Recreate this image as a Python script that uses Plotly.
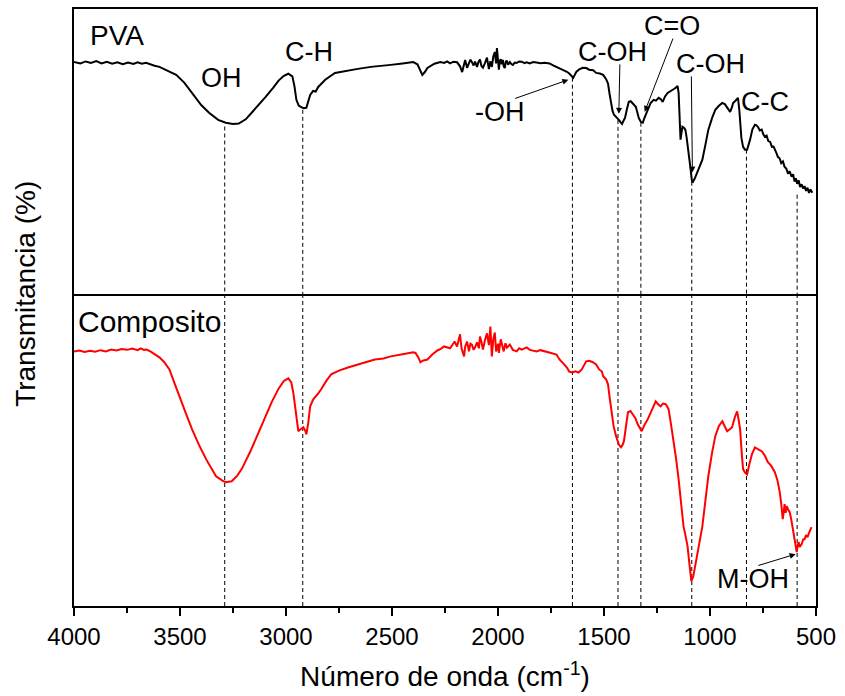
import plotly.graph_objects as go

# ---------------- data ----------------
pva_wn = [4000, 3970, 3945, 3920, 3895, 3870, 3845, 3820, 3795, 3770, 3745, 3720, 3700, 3680, 3660, 3640, 3620, 3597,
          3565, 3540, 3518, 3480, 3443, 3400, 3363, 3320, 3284, 3250, 3223, 3190, 3162, 3129, 3096, 3060, 3035, 3010,
          2989, 2970, 2960, 2951, 2940, 2932, 2918, 2904, 2895, 2886, 2872, 2860, 2848, 2815, 2769, 2720, 2661, 2600,
          2550, 2506, 2450, 2400, 2380, 2366, 2357, 2345, 2333, 2300, 2272, 2254, 2240, 2226, 2210, 2193, 2179, 2169,
          2160, 2155, 2146, 2137, 2130, 2123, 2115, 2108, 2099, 2092, 2085, 2078, 2071, 2062, 2052, 2043, 2036, 2029,
          2022, 2015, 2009, 2005, 2000, 1996, 1991, 1987, 1982, 1977, 1973, 1968, 1963, 1959, 1952, 1944, 1937, 1930,
          1921, 1912, 1900, 1888, 1875, 1865, 1850, 1835, 1818, 1800, 1780, 1757, 1740, 1724, 1705, 1687, 1675, 1664,
          1655, 1645, 1638, 1630, 1617, 1600, 1584, 1570, 1551, 1537, 1520, 1504, 1490, 1481, 1474, 1467, 1460, 1453,
          1440, 1430, 1422, 1415, 1408, 1401, 1392, 1383, 1374, 1364, 1350, 1343, 1336, 1326, 1317, 1310, 1303, 1292,
          1280, 1266, 1255, 1242, 1232, 1223, 1212, 1200, 1186, 1172, 1160, 1153, 1148, 1144, 1139, 1134, 1130, 1122,
          1116, 1110, 1102, 1093, 1086, 1083, 1072, 1060, 1048, 1036, 1022, 1008, 990, 975, 958, 942, 930, 919, 905,
          896, 891, 880, 868, 862, 858, 852, 844, 835, 825, 818, 811, 800, 788, 781, 774, 765, 756, 748, 741, 733, 725,
          716, 708, 700, 692, 686, 680, 672, 664, 656, 648, 640, 632, 625, 615, 608, 601, 595, 589, 582, 575, 568, 560,
          554, 547, 540, 533, 526, 517]
pva_t = [81.5, 81.0, 81.7, 81.2, 81.8, 81.0, 81.6, 80.9, 81.4, 80.7, 81.3, 80.8, 81.4, 80.9, 81.2, 80.6, 80.2, 79.8,
         78.7, 77.9, 77.0, 74.3, 70.7, 66.5, 63.8, 61.3, 60.3, 59.9, 60.0, 61.5, 63.8, 66.5, 69.3, 72.6, 75.0, 76.7,
         77.4, 76.5, 73.0, 68.3, 66.3, 65.9, 65.4, 65.5, 67.5, 70.0, 71.4, 71.2, 72.8, 75.3, 77.7, 78.4, 79.1, 79.8,
         80.1, 80.5, 81.0, 81.5, 80.7, 78.5, 77.0, 78.0, 79.4, 80.9, 81.5, 81.2, 81.7, 81.0, 81.6, 81.4, 80.0, 78.0,
         80.5, 82.2, 79.5, 80.9, 82.3, 81.5, 80.3, 81.6, 79.8, 81.5, 82.4, 80.1, 79.5, 81.0, 83.0, 79.0, 81.8, 79.8,
         83.5, 85.0, 81.0, 86.4, 79.5, 78.8, 82.0, 82.5, 80.7, 82.2, 80.0, 79.4, 81.6, 82.0, 80.6, 81.5, 80.8, 80.5,
         81.3, 81.2, 81.7, 81.6, 81.1, 81.4, 81.0, 81.5, 81.3, 81.1, 81.2, 81.0, 80.3, 79.8, 79.1, 78.6, 78.1, 77.5,
         76.8, 76.0, 77.0, 78.1, 78.9, 79.5, 79.4, 78.8, 78.6, 77.7, 77.5, 77.0, 75.5, 74.0, 70.5, 67.2, 64.5, 63.1,
         62.2, 61.3, 60.5, 59.9, 61.0, 62.0, 65.0, 67.6, 67.8, 66.9, 65.9, 64.0, 62.0, 60.6, 60.3, 61.8, 63.1, 65.5,
         67.2, 68.3, 68.0, 69.0, 68.5, 67.6, 69.5, 70.7, 71.5, 72.0, 72.6, 73.2, 70.7, 62.0, 54.4, 57.0, 58.9, 58.5,
         57.8, 55.0, 50.9, 45.0, 40.5, 39.4, 40.8, 42.9, 45.0, 47.4, 52.5, 57.8, 62.0, 64.8, 66.2, 67.2, 66.8, 65.5,
         64.1, 65.8, 67.2, 68.0, 69.0, 65.0, 59.6, 55.0, 51.9, 50.9, 50.9, 52.5, 54.4, 58.0, 59.6, 59.4, 58.9, 57.6,
         57.9, 56.2, 55.4, 55.8, 53.9, 53.6, 51.9, 52.0, 50.2, 49.6, 48.4, 47.9, 46.2, 46.8, 44.9, 44.3, 42.5, 43.4,
         41.5, 42.3, 39.8, 40.9, 39.0, 40.2, 37.9, 38.8, 37.3, 38.2, 36.5, 37.6, 35.8, 37.0, 35.9]

comp_wn = [4000, 3975, 3950, 3925, 3900, 3875, 3850, 3825, 3800, 3775, 3750, 3725, 3700, 3685, 3670, 3658, 3640, 3620,
           3597, 3575, 3550, 3530, 3504, 3475, 3443, 3410, 3377, 3350, 3330, 3300, 3284, 3256, 3230, 3209, 3170, 3129,
           3100, 3068, 3035, 3010, 2989, 2975, 2965, 2956, 2942, 2930, 2918, 2910, 2904, 2895, 2886, 2872, 2862, 2848,
           2834, 2810, 2787, 2750, 2708, 2661, 2620, 2581, 2540, 2506, 2450, 2400, 2389, 2375, 2366, 2355, 2333, 2310,
           2286, 2270, 2254, 2240, 2226, 2216, 2205, 2193, 2185, 2179, 2172, 2160, 2155, 2146, 2137, 2130, 2123, 2115,
           2108, 2099, 2090, 2085, 2078, 2071, 2062, 2052, 2043, 2036, 2029, 2022, 2015, 2009, 2000, 1996, 1987, 1980,
           1973, 1965, 1958, 1944, 1930, 1912, 1900, 1888, 1865, 1850, 1818, 1800, 1771, 1750, 1724, 1710, 1690, 1675,
           1664, 1650, 1635, 1620, 1605, 1598, 1584, 1570, 1555, 1537, 1523, 1510, 1504, 1490, 1481, 1474, 1467, 1455,
           1443, 1430, 1420, 1413, 1406, 1396, 1387, 1375, 1364, 1352, 1341, 1332, 1322, 1308, 1294, 1275, 1256, 1245,
           1233, 1222, 1209, 1200, 1195, 1185, 1172, 1160, 1148, 1135, 1125, 1115, 1106, 1097, 1088, 1079, 1069, 1055,
           1036, 1022, 1008, 990, 975, 958, 942, 930, 919, 905, 896, 882, 872, 865, 858, 850, 844, 835, 825, 815, 802,
           788, 775, 755, 741, 727, 712, 694, 682, 671, 664, 657, 652, 648, 643, 638, 631, 624, 617, 610, 600, 591, 586,
           582, 577, 568, 560, 554, 547, 540, 530, 521]
comp_t = [82.0, 82.3, 81.8, 82.2, 81.9, 82.4, 82.0, 82.6, 82.3, 82.8, 82.5, 82.9, 82.4, 83.0, 82.5, 82.6, 82.0, 81.0,
          80.1, 78.6, 76.2, 72.5, 67.5, 62.5, 56.9, 51.8, 47.3, 44.0, 41.8, 40.4, 39.9, 40.2, 42.0, 44.1, 49.5, 55.9,
          60.8, 65.6, 70.0, 72.5, 73.3, 72.0, 68.5, 63.3, 56.3, 57.0, 57.6, 56.6, 55.3, 59.0, 64.3, 66.5, 67.5, 68.5,
          69.8, 72.5, 74.6, 75.8, 76.8, 77.8, 78.6, 79.4, 79.7, 80.4, 81.1, 81.7, 81.5, 80.0, 78.5, 79.0, 79.4, 81.0,
          82.3, 82.8, 83.6, 83.2, 83.0, 84.0, 85.2, 83.6, 86.0, 87.5, 83.0, 80.4, 83.5, 85.2, 82.0, 84.5, 84.2, 82.5,
          83.3, 84.9, 83.0, 86.8, 85.0, 82.6, 85.5, 87.8, 84.0, 90.0, 80.4, 86.0, 88.1, 82.0, 84.5, 81.5, 85.9, 83.5,
          82.0, 84.6, 83.2, 84.2, 82.5, 82.0, 83.0, 82.6, 83.3, 82.5, 82.0, 82.4, 82.0, 81.5, 81.0, 79.4, 78.0, 76.8,
          75.5, 75.2, 75.6, 75.2, 76.2, 77.2, 78.8, 79.0, 78.6, 77.8, 76.2, 75.5, 74.0, 73.0, 71.4, 67.5, 63.3, 58.0,
          54.7, 52.0, 51.1, 51.8, 53.1, 58.0, 62.4, 62.8, 61.7, 60.5, 58.5, 57.2, 56.3, 58.5, 60.1, 63.0, 65.9, 65.0,
          64.3, 65.2, 65.0, 64.0, 63.3, 59.0, 53.7, 47.5, 40.8, 33.0, 25.7, 22.5, 19.3, 13.5, 8.0, 9.5, 12.9, 18.5,
          25.7, 33.5, 41.8, 49.5, 54.7, 58.0, 59.5, 57.8, 56.3, 57.0, 57.6, 61.0, 62.7, 60.0, 56.9, 49.0, 44.1, 43.0,
          42.4, 45.5, 48.9, 51.1, 50.5, 49.8, 48.4, 46.3, 45.2, 43.1, 40.5, 36.7, 33.0, 28.0, 30.5, 32.8, 30.0, 32.2,
          31.0, 30.2, 28.0, 24.8, 21.0, 17.4, 19.5, 20.6, 19.0, 19.9, 21.5, 21.5, 22.8, 22.2, 24.0, 25.4]

# band positions (cm-1) marked by dashed lines, and PVA transmittance where each line starts
band_wn = [3289, 2921, 1649, 1434, 1326, 1086, 828, 589]
band_top = [59.0, 64.8, 76.0, 61.3, 60.3, 39.7, 50.9, 35.2]

# labels: (text, wavenumber, transmittance, panel)
labels = [("OH", 3302, 76.0, 1), ("C-H", 2890, 85.0, 1), ("-OH", 1991, 64.1, 1), ("C-OH", 1462, 85.0, 1),
          ("C=O", 1177, 94.1, 1), ("C-OH", 999, 80.8, 1), ("C-C", 741, 67.6, 1), ("M-OH", 797, 8.7, 2)]
# arrows: (tail wn, tail T, head wn, head T, panel)
arrows = [(1926, 68.6, 1668, 75.3, 1), (1425, 81.2, 1430, 63.4, 1), (1172, 90.2, 1308, 64.1, 1),
          (1088, 77.0, 1083, 42.9, 1), (779, 12.9, 596, 16.7, 2)]

FONT = "Liberation Sans, Arial, sans-serif"

fig = go.Figure()
fig.add_trace(go.Scatter(x=pva_wn, y=pva_t, mode="lines", line=dict(color="black", width=2),
                         xaxis="x", yaxis="y", showlegend=False))
fig.add_trace(go.Scatter(x=comp_wn, y=comp_t, mode="lines", line=dict(color="#ff0000", width=2),
                         xaxis="x2", yaxis="y2", showlegend=False))

split = 311 / 598
line_style = dict(showline=True, linecolor="black", linewidth=2, showgrid=False, zeroline=False)
fig.update_layout(
    width=845, height=696,
    margin=dict(l=74, r=23, t=9, b=89),
    paper_bgcolor="white", plot_bgcolor="white",
    font=dict(family=FONT, color="black"),
    # top panel: only its top border (divider is drawn by the bottom panel's mirrored line)
    xaxis=dict(range=[4000, 500], anchor="y", side="top", mirror=False, matches="x2",
               showticklabels=False, ticks="", **line_style),
    yaxis=dict(range=[0, 100], domain=[split, 1], anchor="x", mirror=True,
               showticklabels=False, ticks="", **line_style),
    xaxis2=dict(range=[4000, 500], anchor="y2", mirror=True, ticks="outside", ticklen=8, tickwidth=1.5,
                tickcolor="black", dtick=500, tick0=500,
                tickfont=dict(size=24, family=FONT, color="black"),
                minor=dict(ticks="outside", ticklen=5, tickwidth=1.5, tickcolor="black", dtick=250, tick0=500),
                title=dict(text="Número de onda (cm<sup>-1</sup>)", font=dict(size=28, family=FONT, color="black"),
                           standoff=18),
                **line_style),
    yaxis2=dict(range=[0, 100], domain=[0, split], anchor="x2", mirror=True,
                showticklabels=False, ticks="", **line_style),
)

# dashed band lines
for wn, top in zip(band_wn, band_top):
    fig.add_shape(type="line", xref="x", yref="y", x0=wn, x1=wn, y0=top, y1=0,
                  line=dict(color="black", width=1, dash="4px,3px"), layer="below")
    fig.add_shape(type="line", xref="x2", yref="y2 domain", x0=wn, x1=wn, y0=0, y1=1,
                  line=dict(color="black", width=1, dash="4px,3px"), layer="below")

# panel titles
fig.add_annotation(text="PVA", x=3799, y=90.9, xref="x", yref="y", showarrow=False,
                   font=dict(size=28, family=FONT, color="black"))
fig.add_annotation(text="Composito", x=3644, y=91.6, xref="x2", yref="y2", showarrow=False,
                   font=dict(size=30, family=FONT, color="black"))

for text, wn, t, panel in labels:
    xr, yr = ("x", "y") if panel == 1 else ("x2", "y2")
    fig.add_annotation(text=text, x=wn, y=t, xref=xr, yref=yr, showarrow=False,
                       font=dict(size=27, family=FONT, color="black"))

for twn, tt, hwn, ht, panel in arrows:
    xr, yr = ("x", "y") if panel == 1 else ("x2", "y2")
    fig.add_annotation(text="", x=hwn, y=ht, ax=twn, ay=tt, xref=xr, yref=yr, axref=xr, ayref=yr,
                       showarrow=True, arrowhead=2, arrowsize=1.2, arrowwidth=1, arrowcolor="black")

# y-axis title spanning both panels
fig.add_annotation(text="Transmitancia (%)", x=-0.0656, y=0.5234, xref="paper", yref="paper",
                   textangle=-90, showarrow=False, xanchor="center", yanchor="middle",
                   font=dict(size=28, family=FONT, color="black"))

fig.write_html("out.html")
